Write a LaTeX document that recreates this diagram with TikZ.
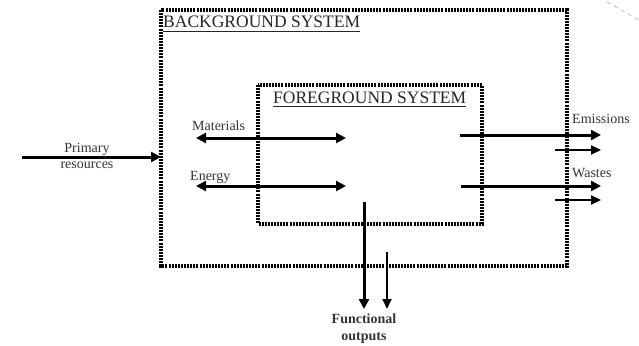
\documentclass[tikz,border=0pt]{standalone}
\usepackage{fontspec}
\setmainfont{Liberation Serif}
\usetikzlibrary{arrows.meta}
\begin{document}
\begin{tikzpicture}[x=1pt,y=-1pt,
  sysbox/.style={line width=3.2pt,dash pattern=on 2pt off 1.1pt},
  title/.style={font=\fontsize{17.5}{17.5}\selectfont,text=black!85,inner sep=0pt,anchor=base west},
  lbl/.style={font=\fontsize{14}{14}\selectfont,text=black!80,inner sep=0pt},
  uline/.style={line width=1.4pt,black!85},
  bigarr/.style={line width=3pt,-{Triangle[length=10pt,width=10pt]}},
  dblarr/.style={line width=3pt,{Triangle[length=10pt,width=10pt]}-{Triangle[length=10pt,width=10pt]}},
  thinarr/.style={line width=2pt,-{Triangle[length=10pt,width=9pt]}}]
\useasboundingbox (0,0) rectangle (639,345);
% boxes
\coordinate (bgA) at (161,10); \coordinate (bgB) at (567,266);
\coordinate (fgA) at (258,85); \coordinate (fgB) at (482,224);
\draw[sysbox] (bgA) rectangle (bgB);
\draw[sysbox] (fgA) rectangle (fgB);
% titles
\node[title] (bgt) at (163,28) {BACKGROUND SYSTEM};
\draw[uline] (bgt.base west) ++(0,3.5) coordinate (bu1) -- (bgt.base east |- bu1);
\node[title] (fgt) at (273,103) {FOREGROUND SYSTEM};
\draw[uline] (fgt.base west) ++(0,3.5) coordinate (fu1) -- (fgt.base east |- fu1);
% primary resources
\coordinate (prA) at (22,157); \coordinate (prB) at (161,157);
\draw[bigarr] (prA) -- (prB);
\node[lbl,anchor=base] (pr1) at (87,152) {Primary};
\node[lbl,anchor=base] (pr2) at (87,168) {resources};
% materials and energy
\coordinate (maA) at (196,138); \coordinate (maB) at (346,138);
\draw[dblarr] (maA) -- (maB);
\node[lbl,anchor=base west] (mat) at (192,130) {Materials};
\coordinate (enA) at (196,186); \coordinate (enB) at (346,186);
\draw[dblarr] (enA) -- (enB);
\node[lbl,anchor=base west] (ene) at (190,180) {Energy};
% emissions and wastes
\coordinate (emA) at (460,135); \coordinate (emB) at (601,135);
\draw[bigarr] (emA) -- (emB);
\coordinate (esA) at (555,150); \coordinate (esB) at (601,150);
\draw[thinarr] (esA) -- (esB);
\node[lbl,anchor=base west] (emi) at (572,123) {Emissions};
\coordinate (waA) at (461,186); \coordinate (waB) at (601,186);
\draw[bigarr] (waA) -- (waB);
\coordinate (wsA) at (555,200); \coordinate (wsB) at (601,200);
\draw[thinarr] (wsA) -- (wsB);
\node[lbl,anchor=base west] (was) at (572,177) {Wastes};
% functional outputs
\coordinate (foA) at (364,202); \coordinate (foB) at (364,309);
\draw[bigarr] (foA) -- (foB);
\coordinate (fsA) at (387,252); \coordinate (fsB) at (387,309);
\draw[thinarr] (fsA) -- (fsB);
\node[lbl,font=\fontsize{14}{14}\selectfont\bfseries,anchor=base] (fo1) at (364,323) {Functional};
\node[lbl,font=\fontsize{14}{14}\selectfont\bfseries,anchor=base] (fo2) at (364,340) {outputs};
% faint artifact line
\coordinate (dgA) at (607,2); \coordinate (dgB) at (639,20);
\draw[black!20,line width=1.2pt,dash pattern=on 4pt off 4pt] (dgA) -- (dgB);
\end{tikzpicture}
\end{document}
